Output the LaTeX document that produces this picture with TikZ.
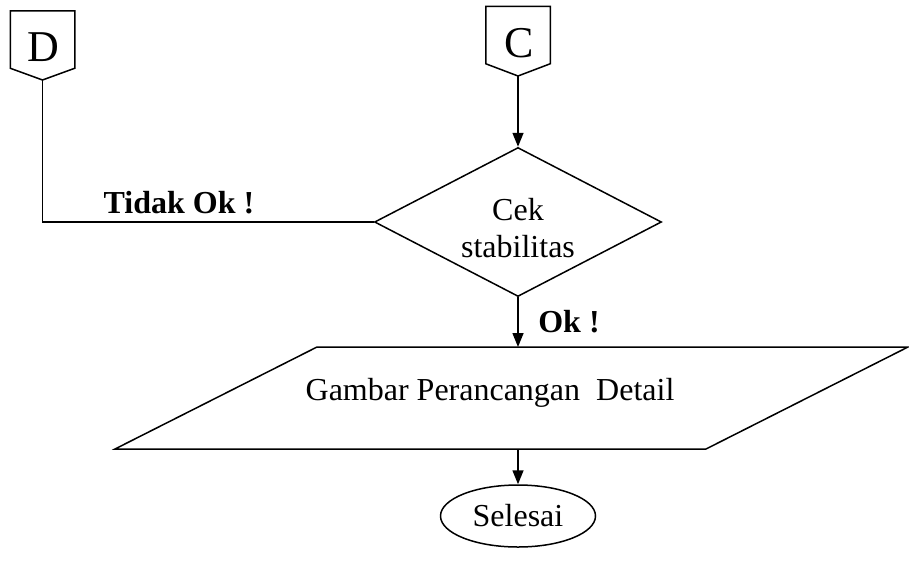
\documentclass[tikz,border=0pt]{standalone}
\usepackage{fontspec}
\setmainfont{Liberation Serif}
\usetikzlibrary{shapes.geometric,arrows.meta}
\begin{document}
\begin{tikzpicture}[x=1pt,y=-1pt, line width=1.5pt,
  lbl/.style={font=\fontsize{32}{37}\selectfont, align=center, inner sep=0pt},
  blbl/.style={font=\fontsize{32}{37}\selectfont\bfseries, inner sep=0pt},
  conn/.style={minimum width=63pt, minimum height=56pt, inner sep=0pt},
  letter/.style={font=\fontsize{44}{44}\selectfont, inner sep=0pt, text height=29pt, text depth=0pt},
  arr/.style={-{Triangle[length=14pt,width=11pt]}},
]
\useasboundingbox (0,0) rectangle (909,576);
% off-page connectors
\node[conn] (D) at (42.5,39.5) {};
\node[letter] (Dl) at (43,47) {D};
\coordinate (Dp) at (42.5,80);
\draw (D.north west) -- (D.north east) -- (D.south east) -- (Dp) -- (D.south west) -- cycle;
\node[conn] (C) at (518,35) {};
\node[letter] (Cl) at (519,43) {C};
\coordinate (Cp) at (518,76);
\draw (C.north west) -- (C.north east) -- (C.south east) -- (Cp) -- (C.south west) -- cycle;
% decision
\node[diamond, draw, shape aspect=1.93, minimum width=287pt, minimum height=149pt, lbl] (dec) at (518,222) {};
\node[lbl] (dect) at (518,228) {Cek\\stabilitas};
% parallelogram
\coordinate (p1) at (317,347);
\coordinate (p2) at (908,347);
\coordinate (p3) at (706,449);
\coordinate (p4) at (115,449);
\draw (p1) -- (p2) -- (p3) -- (p4) -- cycle;
\node[lbl] (ptext) at (490,393) {Gambar Perancangan\ \ Detail};
% terminator
\node[ellipse, draw, minimum width=155pt, minimum height=62pt, lbl] (end) at (518,516) {Selesai};
% labels
\node[blbl] (tok) at (179,203) {Tidak Ok !};
\node[blbl] (ok) at (569,322) {Ok !};
% connectors
\draw (Dp) -- (Dp |- dec.west) -- (dec.west);
\draw[arr] (Cp) -- (dec.north);
\draw[arr] (dec.south) -- (dec.south |- p1);
\draw[arr] (end.north |- p4) -- (end.north);
\end{tikzpicture}
\end{document}
